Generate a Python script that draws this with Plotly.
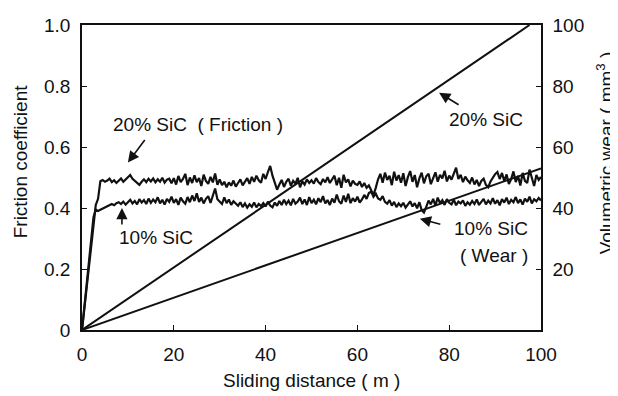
import numpy as np
import plotly.graph_objects as go

# ---------------- data ----------------
distance = np.arange(0, 100.5, 0.5)  # sliding distance (m), sampling positions

friction_20 = [
    0, 0.07, 0.14, 0.21, 0.28, 0.35, 0.41, 0.43, 0.488, 0.492,
    0.486, 0.490, 0.496, 0.485, 0.491, 0.482, 0.489, 0.497, 0.486, 0.493,
    0.498, 0.508, 0.496, 0.490, 0.483, 0.476, 0.486, 0.494, 0.485, 0.496,
    0.487, 0.497, 0.484, 0.494, 0.486, 0.499, 0.483, 0.493, 0.496, 0.481,
    0.498, 0.477, 0.505, 0.485, 0.495, 0.512, 0.475, 0.500, 0.482, 0.507,
    0.485, 0.498, 0.472, 0.509, 0.489, 0.479, 0.502, 0.484, 0.513, 0.476,
    0.494, 0.475, 0.486, 0.468, 0.484, 0.473, 0.490, 0.470, 0.482, 0.494,
    0.474, 0.487, 0.498, 0.479, 0.502, 0.486, 0.506, 0.491, 0.483, 0.512,
    0.495, 0.518, 0.538, 0.506, 0.480, 0.460, 0.477, 0.492, 0.469, 0.486,
    0.496, 0.473, 0.489, 0.480, 0.499, 0.468, 0.487, 0.477, 0.494, 0.482,
    0.491, 0.480, 0.498, 0.485, 0.478, 0.495, 0.484, 0.501, 0.482, 0.493,
    0.506, 0.475, 0.499, 0.466, 0.509, 0.484, 0.494, 0.471, 0.490, 0.479,
    0.476, 0.487, 0.469, 0.482, 0.466, 0.474, 0.460, 0.443, 0.466, 0.494,
    0.512, 0.483, 0.516, 0.492, 0.506, 0.475, 0.519, 0.490, 0.508, 0.483,
    0.514, 0.472, 0.501, 0.521, 0.486, 0.508, 0.468, 0.497, 0.516, 0.481,
    0.504, 0.512, 0.478, 0.496, 0.517, 0.486, 0.509, 0.497, 0.522, 0.487,
    0.506, 0.493, 0.513, 0.532, 0.495, 0.509, 0.485, 0.503, 0.491, 0.482,
    0.500, 0.477, 0.492, 0.472, 0.489, 0.496, 0.476, 0.468, 0.487, 0.500,
    0.511, 0.518, 0.495, 0.515, 0.488, 0.510, 0.479, 0.495, 0.520, 0.485,
    0.505, 0.474, 0.515, 0.489, 0.482, 0.526, 0.496, 0.472, 0.508, 0.492,
    0.502,
]

friction_10 = [
    0, 0.075, 0.15, 0.225, 0.30, 0.37, 0.395, 0.390, 0.394, 0.398,
    0.401, 0.404, 0.409, 0.413, 0.409, 0.416, 0.419, 0.413, 0.421, 0.411,
    0.419, 0.427, 0.415, 0.423, 0.412, 0.429, 0.418, 0.426, 0.413, 0.431,
    0.417, 0.428, 0.419, 0.435, 0.415, 0.427, 0.411, 0.430, 0.420, 0.437,
    0.417, 0.429, 0.410, 0.434, 0.422, 0.414, 0.436, 0.419, 0.441, 0.423,
    0.448, 0.420, 0.434, 0.415, 0.430, 0.439, 0.417, 0.443, 0.464, 0.429,
    0.422, 0.413, 0.435, 0.416, 0.428, 0.410, 0.422, 0.414, 0.407, 0.419,
    0.403, 0.415, 0.401, 0.412, 0.404, 0.418, 0.402, 0.413, 0.406, 0.416,
    0.405, 0.421, 0.408, 0.402, 0.418, 0.407, 0.423, 0.410, 0.427, 0.413,
    0.424, 0.409, 0.430, 0.414, 0.421, 0.434, 0.413, 0.428, 0.410, 0.436,
    0.416, 0.427, 0.412, 0.432, 0.419, 0.439, 0.415, 0.426, 0.410, 0.431,
    0.417, 0.444, 0.422, 0.414, 0.441, 0.420, 0.447, 0.416, 0.432, 0.421,
    0.437, 0.418, 0.428, 0.443, 0.430, 0.449, 0.454, 0.437, 0.447, 0.431,
    0.427, 0.439, 0.420, 0.414, 0.426, 0.408, 0.420, 0.403, 0.415, 0.406,
    0.417, 0.401, 0.413, 0.422, 0.405, 0.416, 0.399, 0.419, 0.393, 0.385,
    0.404, 0.424, 0.412, 0.430, 0.408, 0.434, 0.416, 0.426, 0.410, 0.429,
    0.417, 0.412, 0.427, 0.409, 0.421, 0.415, 0.425, 0.407, 0.419, 0.411,
    0.423, 0.413, 0.428, 0.410, 0.420, 0.430, 0.412, 0.424, 0.415, 0.432,
    0.414, 0.426, 0.409, 0.429, 0.418, 0.434, 0.413, 0.427, 0.419, 0.436,
    0.416, 0.428, 0.411, 0.431, 0.420, 0.437, 0.415, 0.429, 0.422, 0.433,
    0.425,
]

wear_distance_20 = [0, 97.5]
wear_20 = [0, 100]
wear_distance_10 = [0, 100]
wear_10 = [0, 53]

x_ticks = [0, 20, 40, 60, 80, 100]
y_ticks = [0, 0.2, 0.4, 0.6, 0.8, 1.0]
y_tick_labels = ["0", "0.2", "0.4", "0.6", "0.8", "1.0"]
y2_ticks = [20, 40, 60, 80, 100]

FONT = "Liberation Sans, Arial, Helvetica, sans-serif"
BLACK = "#111111"

fig = go.Figure()
line_style = dict(color=BLACK, width=2.2)
fig.add_trace(go.Scatter(x=distance, y=friction_20, mode="lines", line=line_style, yaxis="y"))
fig.add_trace(go.Scatter(x=distance, y=friction_10, mode="lines", line=line_style, yaxis="y"))
fig.add_trace(go.Scatter(x=wear_distance_20, y=wear_20, mode="lines", line=dict(color=BLACK, width=2), yaxis="y2"))
fig.add_trace(go.Scatter(x=wear_distance_10, y=wear_10, mode="lines", line=dict(color=BLACK, width=2), yaxis="y2"))

axis_common = dict(showgrid=False, zeroline=False, showline=True, linecolor=BLACK,
                   linewidth=1.5, ticks="inside", ticklen=5, tickwidth=1.2, tickcolor=BLACK,
                   ticklabeloverflow="allow",
                   tickfont=dict(family=FONT, size=19, color=BLACK))

# The page body has an 8px margin, so the figure is 8px smaller than the window.
fig.update_layout(
    width=610, height=388,
    margin=dict(l=74, r=77, t=7, b=66),
    paper_bgcolor="white", plot_bgcolor="white",
    showlegend=False,
    xaxis=dict(range=[0, 100], tickvals=x_ticks, mirror=True, ticklabelstandoff=6, **axis_common),
    yaxis=dict(range=[0, 1], tickvals=y_ticks, ticktext=y_tick_labels, mirror=True,
               ticklabelstandoff=6, **axis_common),
    yaxis2=dict(range=[0, 100], tickvals=y2_ticks, overlaying="y", side="right",
                ticklabelstandoff=6, **axis_common),
)

tfont = dict(family=FONT, size=19, color=BLACK)
ann = []
# axis titles
ann.append(dict(text="Friction coefficient", xref="paper", yref="paper", x=-0.135, y=0.55,
                textangle=-90, showarrow=False, font=tfont, xanchor="center", yanchor="middle"))
ann.append(dict(text="Volumetric wear ( mm<sup>3</sup> )", xref="paper", yref="paper", x=1.14, y=0.58,
                textangle=-90, showarrow=False, font=tfont, xanchor="center", yanchor="middle"))
ann.append(dict(text="Sliding distance ( m )", xref="paper", yref="paper", x=0.5, y=-0.165,
                showarrow=False, font=tfont, xanchor="center", yanchor="middle"))
# labels
labels = [
    ("20% SiC  ( Friction )", 25.3, 0.675),
    ("10% SiC", 16.1, 0.302),
    ("20% SiC", 88.0, 0.69),
    ("10% SiC", 89.1, 0.333),
    ("( Wear )", 89.8, 0.245),
]
for t, x, y in labels:
    ann.append(dict(text=t, x=x, y=y, xref="x", yref="y", showarrow=False, font=tfont,
                    xanchor="center", yanchor="middle"))
# arrows (head in data coords, tail offset in px)
arrows = [
    (10.0, 0.549, 18, -24),
    (8.7, 0.400, 0, 18),
    (77.8, 0.778, 21, 13),
    (73.6, 0.365, 22, 6),
]
for x, y, axp, ayp in arrows:
    ann.append(dict(text="", x=x, y=y, xref="x", yref="y", showarrow=True, ax=axp, ay=ayp,
                    arrowhead=2, arrowsize=1.4, arrowwidth=1.6, arrowcolor=BLACK, standoff=0))

fig.update_layout(annotations=ann)
fig.write_html("out.html")
